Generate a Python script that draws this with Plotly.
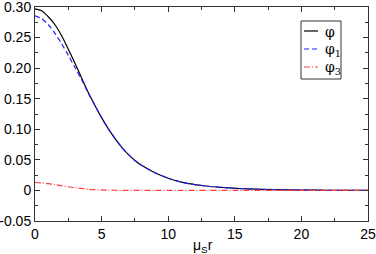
import plotly.graph_objects as go

r = [0, 0.5, 1, 1.5, 2, 2.5, 3, 3.5, 4, 4.5, 5, 5.5, 6, 6.5, 7, 7.5, 8, 9, 10, 11, 12, 13, 14, 15, 16, 18, 20, 22, 25]
phi = [0.297, 0.294, 0.284, 0.271, 0.253, 0.231, 0.208, 0.184, 0.160, 0.139, 0.119, 0.101, 0.085, 0.071, 0.059, 0.049, 0.041, 0.029, 0.020, 0.0135, 0.0095, 0.0068, 0.0050, 0.0035, 0.0025, 0.0012, 0.0006, 0.0003, 0.0001]
phi1 = [0.2855, 0.281, 0.271, 0.257, 0.240, 0.221, 0.201, 0.181, 0.159, 0.139, 0.119, 0.101, 0.085, 0.071, 0.059, 0.049, 0.041, 0.029, 0.020, 0.0135, 0.0095, 0.0068, 0.0050, 0.0035, 0.0025, 0.0012, 0.0006, 0.0003, 0.0001]
phi3 = [0.0130, 0.0124, 0.0112, 0.0095, 0.0075, 0.0060, 0.0045, 0.0032, 0.0020, 0.0013, 0.0008, 0.0005, 0.0003, 0.0002, 0.0001, 0.0001, 0, 0, 0, 0, 0, 0, 0, 0, 0, 0, 0, 0, 0]

names = ["φ", "φ<sub>1</sub>", "φ<sub>3</sub>"]
colors = ["black", "#2020ff", "#ff3a3a"]
dashes = ["solid", "5px,3px", "6px,2px,1px,2px"]

yticks = [-0.05, 0, 0.05, 0.10, 0.15, 0.20, 0.25, 0.30]
yticktext = ["-0.05", "0", "0.05", "0.10", "0.15", "0.20", "0.25", "0.30"]
xticks = [0, 5, 10, 15, 20, 25]

fig = go.Figure()
for yv, nm, c, d in zip([phi, phi1, phi3], names, colors, dashes):
    fig.add_trace(go.Scatter(x=r, y=yv, mode="lines", name=nm, showlegend=False,
                             line=dict(color=c, width=1.2, dash=d, shape="spline", smoothing=0.8)))

font = dict(family="Liberation Sans, Arial, sans-serif", size=14, color="black")
axcol = "#333"

# custom legend (paper coordinates)
L, R = 35, 8
T, B = 7, 33
W, H = 376 - L - R, 254 - T - B
px = lambda x: (x - L) / W
py = lambda y: 1 - (y - T) / H

shapes = [dict(type="rect", xref="paper", yref="paper", x0=px(301), x1=px(341), y0=py(79), y1=py(21),
               line=dict(color=axcol, width=1), fillcolor="white", layer="above")]
annots = []
for i, (nm, c, d) in enumerate(zip(names, colors, dashes)):
    yy = 31 + 18 * i
    shapes.append(dict(type="line", xref="paper", yref="paper", x0=px(304), x1=px(318), y0=py(yy), y1=py(yy),
                       line=dict(color=c, width=1.2, dash=d), layer="above"))
    annots.append(dict(xref="paper", yref="paper", x=px(323), y=py(yy + 1), xanchor="left", yanchor="middle",
                       text=nm, showarrow=False, font=dict(family="DejaVu Serif, serif", size=14, color="black")))

annots.append(dict(xref="paper", yref="paper", x=px(203), y=py(235), xanchor="center", yanchor="top",
                   text="μ<sub>S</sub>r", showarrow=False, font=dict(family="Liberation Sans, Arial, sans-serif", size=14, color="black")))

fig.update_layout(
    width=376, height=254,
    margin=dict(l=L, r=R, t=T, b=B),
    paper_bgcolor="white", plot_bgcolor="white",
    font=font,
    showlegend=False,
    shapes=shapes,
    annotations=annots,
    xaxis=dict(range=[0, 25], tickvals=xticks, ticks="inside", ticklen=5, tickcolor=axcol, automargin=False,
               showline=True, linecolor=axcol, linewidth=1, mirror="allticks", showgrid=False, zeroline=False,
               ticklabeloverflow="allow",
               minor=dict(ticks="inside", ticklen=3, dtick=2.5, tickcolor=axcol, showgrid=False),
               tickfont=font),
    yaxis=dict(range=[-0.05, 0.30], tickvals=yticks, ticktext=yticktext, ticks="inside", ticklen=5, tickcolor=axcol,
               automargin=False, ticklabeloverflow="allow",
               showline=True, linecolor=axcol, linewidth=1, mirror="allticks", showgrid=False, zeroline=False,
               minor=dict(ticks="inside", ticklen=3, tickvals=[-0.025, 0.025, 0.075, 0.125, 0.175, 0.225, 0.275], tickcolor=axcol, showgrid=False),
               tickfont=font),
)
fig.write_html("out.html", config={"displayModeBar": False},
               post_script="document.body.style.margin='0';document.documentElement.style.overflow='hidden';")
